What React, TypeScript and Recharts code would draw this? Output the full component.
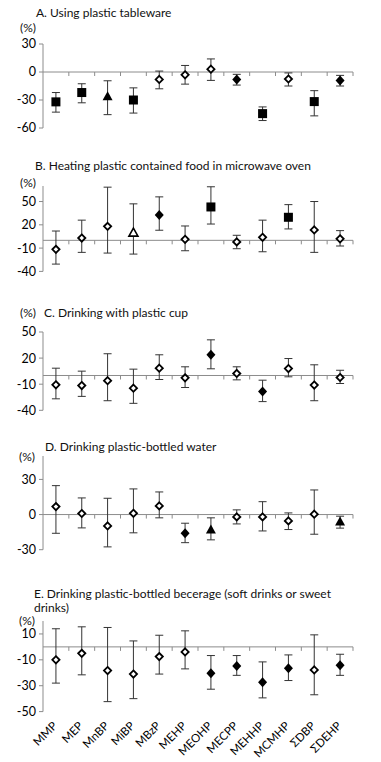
import React from "react";
import { ScatterChart, Scatter, XAxis, YAxis, ErrorBar, ReferenceLine } from "recharts";

const categories = ["MMP", "MEP", "MnBP", "MiBP", "MBzP", "MEHP", "MEOHP", "MECPP", "MEHHP", "MCMHP", "ΣDBP", "ΣDEHP"];

// marker kinds: sq = filled square, tri = filled triangle, ot = open triangle,
// fd = filled diamond, od = open diamond
const aMean = [-32, -22, -26, -30, -8, -3, 3, -8, -44.6, -7.5, -31.7, -9];
const aLow = [-43, -33, -45.7, -44, -18, -13, -9, -14, -52, -15, -47, -15];
const aHigh = [-22, -12.6, -9.4, -17, 1, 7, 14, -2.5, -37.4, -1, -20, -3.6];
const aMark = ["sq", "sq", "tri", "sq", "od", "od", "od", "fd", "sq", "od", "sq", "fd"];

const bMean = [-11.6, 3, 18, 10, 32.8, 1.3, 43, -2, 3.9, 29.7, 13.4, 2];
const bLow = [-30.6, -15.5, -16.4, -17.7, 13, -13.4, 21, -10.8, -14.7, 14.7, -15.5, -7.3];
const bHigh = [12, 26, 68.5, 47, 56, 18.5, 69, 6.5, 26, 46, 50, 12.5];
const bMark = ["od", "od", "od", "ot", "fd", "od", "sq", "od", "od", "sq", "od", "od"];

const cMean = [-10.7, -11.5, -6, -14.6, 8.4, -2.7, 23.8, 2.3, -18.4, 8, -11, -2.3];
const cLow = [-26.8, -24, -29, -32, -4.6, -13.8, 7.7, -5, -30, -1.5, -29, -9.2];
const cHigh = [8.4, 5, 25, 7.3, 23.8, 10, 41, 10, -5.4, 19.5, 12.3, 6];
const cMark = ["od", "od", "od", "od", "od", "od", "fd", "od", "fd", "od", "od", "od"];

const dMean = [6.8, 0.9, -9.7, 1.1, 7.4, -16, -12.8, -2, -2, -5.4, 0.3, -6];
const dLow = [-16, -11.4, -27.6, -15.6, -2.8, -24, -21.6, -8, -14, -12.8, -16.8, -11.6];
const dHigh = [24.7, 14.2, 13.9, 21.9, 19.3, -7.4, -2.8, 4, 11, 1.4, 21, -1.4];
const dMark = ["od", "od", "od", "od", "od", "fd", "tri", "od", "od", "od", "od", "tri"];

const eMean = [-10, -5, -18.3, -21, -7.5, -3.9, -20.4, -14.7, -27.3, -16.5, -17.8, -14.2];
const eLow = [-28, -21.6, -42.3, -40, -21, -17, -32.7, -22, -39.4, -26, -37, -22];
const eHigh = [14, 15.5, 15, 4.6, 9, 12.4, -6.7, -6.7, -11.6, -6.2, 9.3, -5.7];
const eMark = ["od", "od", "od", "od", "od", "od", "fd", "fd", "fd", "fd", "od", "fd"];

const boundaries = [1, 2, 3, 4, 5, 6, 7, 8, 9, 10, 11, 12];
const centers = categories.map((_, i) => i + 0.5);

const FONT = "Lato, 'Noto Sans', sans-serif";
const AXIS = "#8c8c8c";
const MT = 9;
const MB = 9;

function Marker(props: any) {
  const { cx, cy, payload } = props;
  if (cx == null || cy == null) return null;
  switch (payload.mark) {
    case "sq":
      return <rect x={cx - 4.5} y={cy - 4.5} width={9} height={9} fill="#000" />;
    case "tri":
      return <polygon points={`${cx},${cy - 5} ${cx + 5},${cy + 4} ${cx - 5},${cy + 4}`} fill="#000" />;
    case "ot":
      return (
        <polygon points={`${cx},${cy - 4.5} ${cx + 4.5},${cy + 3.5} ${cx - 4.5},${cy + 3.5}`}
          fill="#fff" stroke="#000" strokeWidth={1.6} />
      );
    case "fd":
      return <polygon points={`${cx},${cy - 5} ${cx + 4.5},${cy} ${cx},${cy + 5} ${cx - 4.5},${cy}`} fill="#000" />;
    default:
      return (
        <polygon points={`${cx},${cy - 3.6} ${cx + 3.6},${cy} ${cx},${cy + 3.6} ${cx - 3.6},${cy}`}
          fill="#fff" stroke="#000" strokeWidth={1.8} />
      );
  }
}

function TickDown(props: any) {
  const { x1, y1 } = props;
  return <line x1={x1} y1={y1} x2={x1} y2={y1 + 4} stroke={AXIS} strokeWidth={1} />;
}

function CatTick(props: any) {
  const { x, y, payload } = props;
  const ax = x + 2;
  const ay = y + 9;
  return (
    <text x={ax} y={ay} transform={`rotate(-45, ${ax}, ${ay})`} textAnchor="end"
      fontSize={11.5} fontFamily={FONT} fill="#000">
      {categories[Math.floor(payload.value)]}
    </text>
  );
}

function Panel({ mean, low, high, mark, domain, ticks, top, plotH, labels = false }: any) {
  const data = categories.map((c, i) => ({
    x: i + 0.5,
    y: mean[i],
    err: [mean[i] - low[i], high[i] - mean[i]],
    mark: mark[i],
    name: c,
  }));
  const axisH = labels ? 44 : 0;
  return (
    <div style={{ position: "absolute", left: 0, top: top - MT }}>
      <ScatterChart width={381} height={plotH + MT + MB + axisH}
        margin={{ top: MT, right: 28, bottom: MB, left: 13 }}>
        <XAxis type="number" dataKey="x" domain={[0, 12]} ticks={centers} hide={!labels}
          axisLine={false} tickLine={false} tickSize={4} tickMargin={2} height={labels ? axisH : 0}
          interval={0} tick={<CatTick />} />
        <YAxis type="number" dataKey="y" domain={domain} ticks={ticks} width={30}
          axisLine={{ stroke: AXIS }} tickLine={{ stroke: AXIS }} tickSize={4} tickMargin={3}
          interval={0} tick={{ fill: "#000", fontSize: 12.5, fontFamily: FONT }} />
        <ReferenceLine y={0} stroke={AXIS} strokeWidth={1} />
        {boundaries.map((b) => (
          <ReferenceLine key={b} segment={[{ x: b, y: 0 }, { x: b, y: 0 }]} shape={<TickDown />} />
        ))}
        <Scatter data={data} dataKey="y" shape={<Marker />} isAnimationActive={false}>
          <ErrorBar dataKey="err" direction="y" width={4} stroke="#333" strokeWidth={1} />
        </Scatter>
      </ScatterChart>
    </div>
  );
}

const txt: React.CSSProperties = {
  position: "absolute",
  fontFamily: FONT,
  fontSize: 12,
  color: "#111",
  whiteSpace: "nowrap",
  lineHeight: "13px",
};

export default function App() {
  return (
    <div style={{ position: "absolute", left: 0, top: 0, width: 381, height: 762, background: "#fff", overflow: "hidden" }}>
      <div style={{ ...txt, left: 36, top: 6 }}>A. Using plastic tableware</div>
      <div style={{ ...txt, left: 20, top: 21 }}>(%)</div>
      <Panel mean={aMean} low={aLow} high={aHigh} mark={aMark} domain={[-60, 30]} ticks={[-60, -30, 0, 30]} top={43.7} plotH={84} />

      <div style={{ ...txt, left: 35, top: 159 }}>B. Heating plastic contained food in microwave oven</div>
      <div style={{ ...txt, left: 20, top: 176 }}>(%)</div>
      <Panel mean={bMean} low={bLow} high={bHigh} mark={bMark} domain={[-40, 70]} ticks={[-40, -10, 20, 50]} top={186.3} plotH={85.4} />

      <div style={{ ...txt, left: 20, top: 306 }}>(%)</div>
      <div style={{ ...txt, left: 44, top: 306 }}>C. Drinking with plastic cup</div>
      <Panel mean={cMean} low={cLow} high={cHigh} mark={cMark} domain={[-40, 50]} ticks={[-40, -10, 20, 50]} top={331.7} plotH={78.3} />

      <div style={{ ...txt, left: 45, top: 440 }}>D. Drinking plastic-bottled water</div>
      <div style={{ ...txt, left: 19, top: 450 }}>(%)</div>
      <Panel mean={dMean} low={dLow} high={dHigh} mark={dMark} domain={[-30, 50]} ticks={[-30, 0, 30]} top={456.3} plotH={93.7} />

      <div style={{ ...txt, left: 34, top: 587 }}>E. Drinking plastic-bottled becerage (soft drinks or sweet</div>
      <div style={{ ...txt, left: 34, top: 601 }}>drinks)</div>
      <div style={{ ...txt, left: 19, top: 614 }}>(%)</div>
      <Panel mean={eMean} low={eLow} high={eHigh} mark={eMark} domain={[-50, 20]} ticks={[-50, -30, -10, 10]} top={621.4} plotH={90.6} labels />
    </div>
  );
}
